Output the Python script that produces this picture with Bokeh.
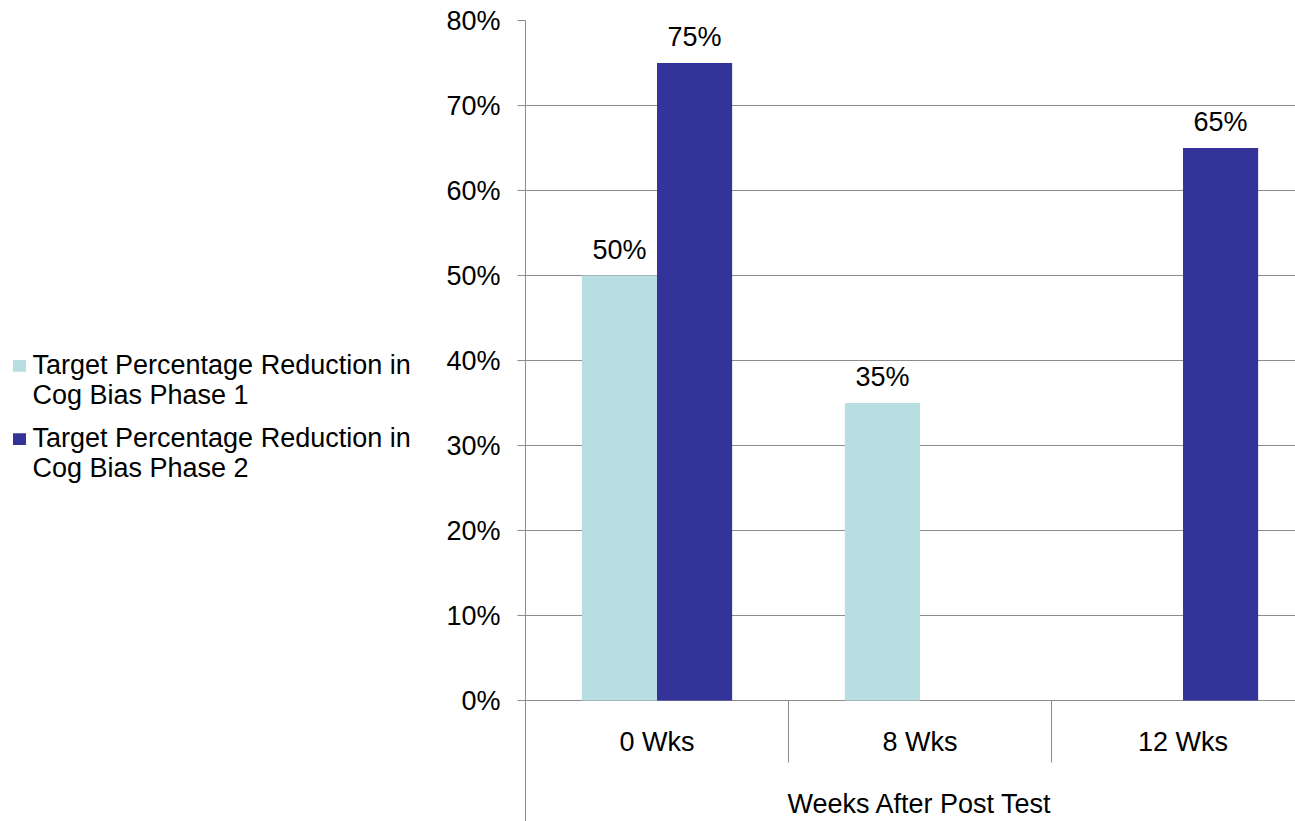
import math
from bokeh.plotting import figure
from bokeh.layouts import row
from bokeh.models import Range1d, FixedTicker, NumeralTickFormatter
from bokeh.core.properties import value
from bokeh.embed import file_html
from bokeh.resources import INLINE

# ---- data ----
categories = ["0 Wks", "8 Wks", "12 Wks"]
phase1 = [0.50, 0.35, float("nan")]
phase2 = [0.75, float("nan"), 0.65]
series_names = ["Target Percentage Reduction in\nCog Bias Phase 1",
                "Target Percentage Reduction in\nCog Bias Phase 2"]
y_ticks = [0.0, 0.1, 0.2, 0.3, 0.4, 0.5, 0.6, 0.7, 0.8]
x_title = "Weeks After Post Test"

# ---- style ----
FONT = "Liberation Sans"
FS = "27px"
C1 = "#B7DFE2"
C2 = "#333399"
COLORS = [C1, C2]
GRID = "#8c8c8c"
BAR_W = 1 / 3.5  # Excel gap width 150%
BASE_FIX = -9    # screen correction for alphabetic baseline

n = len(categories)
PX_PER_UNIT_Y = 850.0
cat_px = 263.0
LEG_W = 440
H = 821

# ---------------- main chart ----------------
p = figure(width=1295 - LEG_W, height=H, output_backend="svg", toolbar_location=None,
           x_range=Range1d(0, 770 / cat_px),
           y_range=Range1d(-121 / PX_PER_UNIT_Y, 0.8),
           x_axis_location=None, title_location=None,
           min_border_left=525 - LEG_W, min_border_right=0, min_border_top=20,
           min_border_bottom=0)
p.outline_line_color = None
p.background_fill_color = "white"
p.border_fill_color = "white"
p.xgrid.visible = False

p.yaxis.ticker = FixedTicker(ticks=y_ticks, minor_ticks=[])
p.yaxis.formatter = NumeralTickFormatter(format="0%")
p.yaxis.major_tick_in = 0
p.yaxis.major_tick_out = 8
p.yaxis.minor_tick_line_color = None
p.yaxis.axis_line_color = GRID
p.yaxis.major_tick_line_color = GRID
p.yaxis.major_label_standoff = 17
p.yaxis.major_label_text_font = FONT
p.yaxis.major_label_text_font_size = FS
p.yaxis.major_label_text_color = "black"
p.ygrid.ticker = FixedTicker(ticks=y_ticks, minor_ticks=[])
p.ygrid.grid_line_color = GRID

centers = [i + 0.5 for i in range(n)]
x1 = [c - BAR_W / 2 for c in centers]
x2 = [c + BAR_W / 2 for c in centers]
p.vbar(x=x1, top=phase1, bottom=0, width=BAR_W, fill_color=C1, line_color=None)
p.vbar(x=x2, top=phase2, bottom=0, width=BAR_W, fill_color=C2, line_color=None)

lx, ly, lt = [], [], []
for xs, vals in ((x1, phase1), (x2, phase2)):
    for xx, v in zip(xs, vals):
        if not math.isnan(v):
            lx.append(xx); ly.append(v); lt.append(f"{round(v*100)}%")
p.text(x=lx, y=ly, text=lt, y_offset=-17 + BASE_FIX, text_align="center",
       text_baseline="alphabetic", text_font=value(FONT), text_font_size=FS,
       text_color="black")

p.text(x=centers, y=[0] * n, text=categories, y_offset=50 + BASE_FIX,
       text_align="center", text_baseline="alphabetic", text_font=value(FONT),
       text_font_size=FS, text_color="black")
seps = list(range(1, n))
p.ray(x=seps, y=[0] * len(seps), length=62, length_units="screen",
      angle=-math.pi / 2, line_color=GRID, line_width=1)
p.text(x=[n / 2], y=[0], text=[x_title], y_offset=112 + BASE_FIX,
       text_align="center", text_baseline="alphabetic", text_font=value(FONT),
       text_font_size=FS, text_color="black")

# ---------------- legend panel ----------------
lg = figure(width=LEG_W, height=H, output_backend="svg", toolbar_location=None,
            x_range=Range1d(0, LEG_W), y_range=Range1d(H, 0),
            x_axis_location=None, y_axis_location=None, title_location=None,
            min_border=0)
lg.outline_line_color = None
lg.grid.visible = False
lg.background_fill_color = "white"
lg.border_fill_color = "white"

ENTRY_GAP = 75.0
LINE_GAP = 31.0
TOP = 354  # swatch centre of first entry
for i, name in enumerate(series_names):
    lg.rect(x=[19], y=[TOP + i * ENTRY_GAP], width=13, height=12,
            fill_color=COLORS[i], line_color=None)
    lines = name.split("\n")
    lg.text(x=[32] * len(lines),
            y=[TOP + 8 + i * ENTRY_GAP + j * LINE_GAP for j in range(len(lines))],
            text=lines, y_offset=BASE_FIX, text_align="left",
            text_baseline="alphabetic", text_font=value(FONT),
            text_font_size=FS, text_color="black")

layout = row(lg, p, spacing=0)
open("out.html", "w").write(file_html(layout, INLINE))
